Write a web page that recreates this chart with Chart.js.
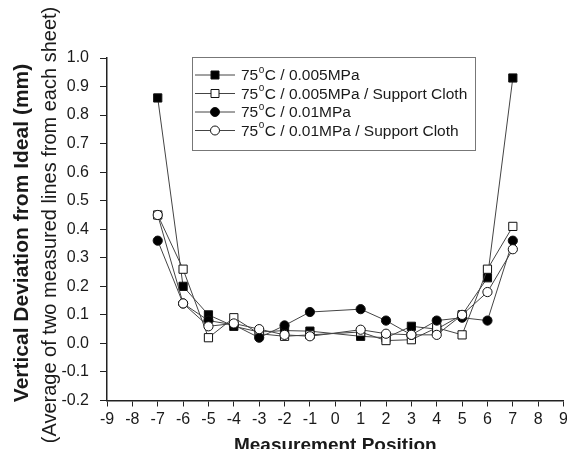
<!DOCTYPE html>
<html>
<head>
<meta charset="utf-8">
<script src="https://cdn.jsdelivr.net/npm/chart.js@4"></script>
<style>
  html, body { margin: 0; padding: 0; background: #fff; overflow: hidden; }
  #wrap { width: 571px; height: 449px; }
</style>
</head>
<body>
<div id="wrap"><canvas id="devChart"></canvas></div>
<script>
const positions = [-7, -6, -5, -4, -3, -2, -1, 1, 2, 3, 4, 5, 6, 7];

const dev005 = [0.86, 0.20, 0.10, 0.06, 0.04, 0.045, 0.043, 0.025, 0.02, 0.06, 0.05, 0.10, 0.23, 0.93];
const dev005Cloth = [0.45, 0.26, 0.02, 0.09, 0.034, 0.025, 0.03, 0.04, 0.01, 0.013, 0.055, 0.03, 0.26, 0.41];
const dev01 = [0.36, 0.14, 0.08, 0.065, 0.02, 0.063, 0.11, 0.12, 0.08, 0.03, 0.08, 0.09, 0.08, 0.36];
const dev01Cloth = [0.45, 0.14, 0.06, 0.07, 0.05, 0.03, 0.025, 0.048, 0.034, 0.03, 0.03, 0.10, 0.18, 0.33];

const seriesNames = ['0.005MPa', '0.005MPa / Support Cloth', '0.01MPa', '0.01MPa / Support Cloth'];

const font = '"Liberation Sans", Arial, sans-serif';
const ink = '#1a1a1a';

const toPoints = vals => vals.map((v, i) => ({ x: positions[i], y: v }));

function series(i, vals, style, filled) {
  return {
    label: seriesNames[i],
    data: toPoints(vals),
    borderColor: '#444',
    borderWidth: 1,
    pointStyle: style,
    pointRadius: style === 'rect' ? 5.8 : 4.6,
    pointBorderColor: '#111',
    pointBorderWidth: 1,
    pointBackgroundColor: filled ? '#000' : '#fff',
    tension: 0,
    order: 3 - i
  };
}

// legend box with line + marker, and the superscript "o"
const legendBox = {
  id: 'legendBox',
  afterDraw(chart) {
    const ctx = chart.ctx;
    ctx.save();
    ctx.strokeStyle = '#777';
    ctx.lineWidth = 1;
    ctx.strokeRect(192.5, 57.5, 283, 93);
    chart.data.datasets.forEach((ds, i) => {
      const y = 75 + i * 18.5;
      ctx.strokeStyle = '#444';
      ctx.beginPath();
      ctx.moveTo(195, y);
      ctx.lineTo(235, y);
      ctx.stroke();
      ctx.fillStyle = ds.pointBackgroundColor;
      ctx.strokeStyle = ds.pointBorderColor;
      ctx.beginPath();
      if (ds.pointStyle === 'rect') {
        ctx.rect(211, y - 4, 8, 8);
      } else {
        ctx.arc(215, y, 4.5, 0, Math.PI * 2);
      }
      ctx.fill();
      ctx.stroke();

      ctx.fillStyle = ink;
      ctx.textBaseline = 'middle';
      ctx.font = '15.5px ' + font;
      let x = 241;
      ctx.fillText('75', x, y + 1);
      x += ctx.measureText('75').width;
      ctx.font = '10px ' + font;
      ctx.fillText('o', x + 0.5, y - 5);
      x += ctx.measureText('o').width + 1;
      ctx.font = '15.5px ' + font;
      ctx.fillText('C / ' + ds.label, x, y + 1);
    });
    ctx.restore();
  }
};

const axisTitles = {
  id: 'axisTitles',
  afterDraw(chart) {
    const ctx = chart.ctx;
    const a = chart.chartArea;
    ctx.save();
    ctx.fillStyle = ink;
    ctx.textAlign = 'center';
    ctx.textBaseline = 'middle';
    ctx.font = 'bold 19px ' + font;
    ctx.fillText('Measurement Position', (a.left + a.right) / 2, 446);

    ctx.save();
    ctx.translate(22, 233);
    ctx.rotate(-Math.PI / 2);
    ctx.font = 'bold 21px ' + font;
    ctx.fillText('Vertical Deviation from Ideal (mm)', 0, 0);
    ctx.restore();

    ctx.translate(50, 225);
    ctx.rotate(-Math.PI / 2);
    ctx.font = '20px ' + font;
    ctx.fillText('(Average of two measured lines from each sheet)', 0, 0);
    ctx.restore();
  }
};

new Chart(document.getElementById('devChart'), {
  type: 'line',
  data: {
    datasets: [
      series(0, dev005, 'rect', true),
      series(1, dev005Cloth, 'rect', false),
      series(2, dev01, 'circle', true),
      series(3, dev01Cloth, 'circle', false)
    ]
  },
  options: {
    responsive: true,
    maintainAspectRatio: false,
    animation: false,
    layout: { padding: { top: 58, right: 0, bottom: 0, left: 0 } },
    plugins: {
      legend: { display: false },
      tooltip: { enabled: false }
    },
    scales: {
      x: {
        type: 'linear',
        min: -9,
        max: 9,
        afterFit: s => { s.height = 48.5; },
        ticks: { stepSize: 1, color: ink, font: { family: font, size: 16 }, padding: 3, maxRotation: 0, autoSkip: false },
        grid: { drawOnChartArea: false, drawTicks: true, tickLength: 6, color: '#222' },
        border: { display: true, color: '#222', width: 1.5 }
      },
      y: {
        min: -0.2,
        max: 1.0,
        afterFit: s => { s.width = 107; },
        ticks: { stepSize: 0.1, color: ink, font: { family: font, size: 16 }, padding: 11,
          callback: v => (Math.abs(v) < 1e-9 ? 0 : v).toFixed(1) },
        grid: { drawOnChartArea: false, drawTicks: true, tickLength: 7, color: '#222' },
        border: { display: true, color: '#222', width: 1.5 }
      }
    }
  },
  plugins: [legendBox, axisTitles]
});
</script>
</body>
</html>
